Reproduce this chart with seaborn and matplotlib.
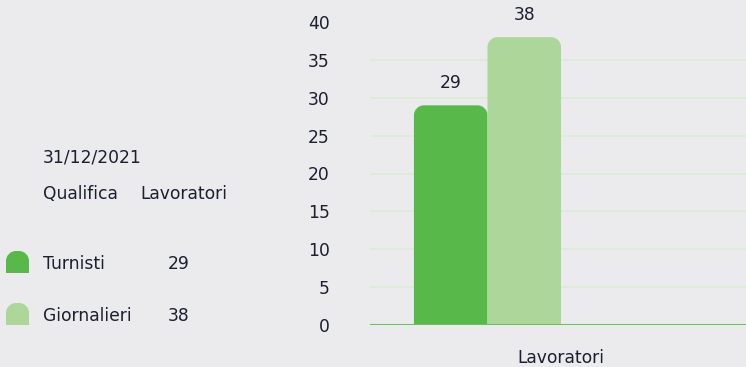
import matplotlib
matplotlib.use("Agg")
import matplotlib.pyplot as plt
import seaborn as sns
import pandas as pd
import numpy as np
from matplotlib.path import Path
from matplotlib.patches import PathPatch
from matplotlib.transforms import IdentityTransform

# Data
categoria = ["Lavoratori"]
qualifiche = ["Turnisti", "Giornalieri"]
lavoratori = [29, 38]
data_riferimento = "31/12/2021"
y_ticks = [0, 5, 10, 15, 20, 25, 30, 35, 40]

BG = "#ebebee"
TEXT = "#1b1f2e"
VERDE = "#58b94a"
VERDE_CHIARO = "#add69a"
GRID = "#dcecd5"
ASSE = "#6cc060"

sns.set_theme(style="white")
plt.rcParams["font.family"] = ["DejaVu Sans"]
plt.rcParams["text.color"] = TEXT

W, H, DPI = 746, 367, 100
fs = 12.3
fig = plt.figure(figsize=(W / DPI, H / DPI), dpi=DPI, facecolor=BG)
ax = fig.add_axes([370 / W, 1 - 325 / H, 382 / W, (325 - 22) / H])
ax.set_facecolor(BG)

df = pd.DataFrame({
    "categoria": categoria * len(qualifiche),
    "qualifica": qualifiche,
    "valore": lavoratori,
})
# two extra (empty) series slots keep the grouped layout of the dashboard chart
hue_order = qualifiche + [" ", "  "]
palette = {"Turnisti": VERDE, "Giornalieri": VERDE_CHIARO, " ": BG, "  ": BG}
sns.barplot(data=df, x="categoria", y="valore", hue="qualifica",
            hue_order=hue_order, palette=palette, width=0.77, gap=0,
            saturation=1, legend=False, ax=ax, linewidth=0, errorbar=None)

ax.set_ylim(0, 40)
ax.set_xlim(-0.5, 0.5)
ax.set_yticks(y_ticks)
ax.set_yticklabels([str(t) for t in y_ticks])
ax.tick_params(axis="y", length=0, pad=29, labelsize=fs, labelcolor=TEXT)
ax.tick_params(axis="x", length=0, pad=17, labelsize=fs, labelcolor=TEXT)
ax.set_xlabel("")
ax.set_ylabel("")
for s in ax.spines.values():
    s.set_visible(False)

# horizontal grid (skip 0 and the top edge)
for t in y_ticks[1:-1]:
    ax.axhline(t, color=GRID, lw=1.2, zorder=0)
ax.axhline(0, color=ASSE, lw=1.5, zorder=3)

fig.canvas.draw()


def rounded_top(x0, y0, w, h, rx, ry):
    k = 0.5523
    verts = [
        (x0, y0),
        (x0, y0 + h - ry),
        (x0, y0 + h - ry + k * ry), (x0 + rx - k * rx, y0 + h), (x0 + rx, y0 + h),
        (x0 + w - rx, y0 + h),
        (x0 + w - rx + k * rx, y0 + h), (x0 + w, y0 + h - ry + k * ry), (x0 + w, y0 + h - ry),
        (x0 + w, y0),
        (x0, y0),
    ]
    codes = [Path.MOVETO, Path.LINETO,
             Path.CURVE4, Path.CURVE4, Path.CURVE4,
             Path.LINETO,
             Path.CURVE4, Path.CURVE4, Path.CURVE4,
             Path.LINETO, Path.CLOSEPOLY]
    return Path(verts, codes)


# pixel -> data scale for corner radii
bbox = ax.get_window_extent()
px_x = (ax.get_xlim()[1] - ax.get_xlim()[0]) / bbox.width
px_y = (ax.get_ylim()[1] - ax.get_ylim()[0]) / bbox.height
r_px = 10

bars = [p for p in ax.patches if p.get_height() > 0]
bars.sort(key=lambda p: p.get_x())
for p in bars:
    x0, w, h = p.get_x(), p.get_width(), p.get_height()
    path = rounded_top(x0, 0, w, h, r_px * px_x, r_px * px_y)
    ax.add_patch(PathPatch(path, facecolor=p.get_facecolor(), lw=0, zorder=2))
    p.set_visible(False)
    ax.annotate(f"{h:g}", (x0 + w / 2, h), xytext=(0, 16), textcoords="offset points",
                ha="center", va="center", fontsize=fs, color=TEXT, annotation_clip=False)


# left-side summary legend
def fx(px):
    return px / W


def fy(py):
    return 1 - py / H


fig.text(fx(43), fy(158), data_riferimento, fontsize=fs, va="center", ha="left")
fig.text(fx(43), fy(194), "Qualifica", fontsize=fs, va="center", ha="left")
fig.text(fx(140), fy(194), "Lavoratori", fontsize=fs, va="center", ha="left")

colori = [VERDE, VERDE_CHIARO]
righe_y = [262, 314]
for nome, val, col, yc in zip(qualifiche, lavoratori, colori, righe_y):
    # marker: 23x22 px with a rounded top
    top = H - (yc - 11)
    path = rounded_top(6, top - 22, 23, 22, 10, 10)
    fig.add_artist(PathPatch(path, facecolor=col, lw=0, transform=IdentityTransform()))
    fig.text(fx(43), fy(yc + 2), nome, fontsize=fs, va="center", ha="left")
    fig.text(fx(168), fy(yc + 2), str(val), fontsize=fs, va="center", ha="left")

fig.savefig("out.png", dpi=DPI, facecolor=BG)
